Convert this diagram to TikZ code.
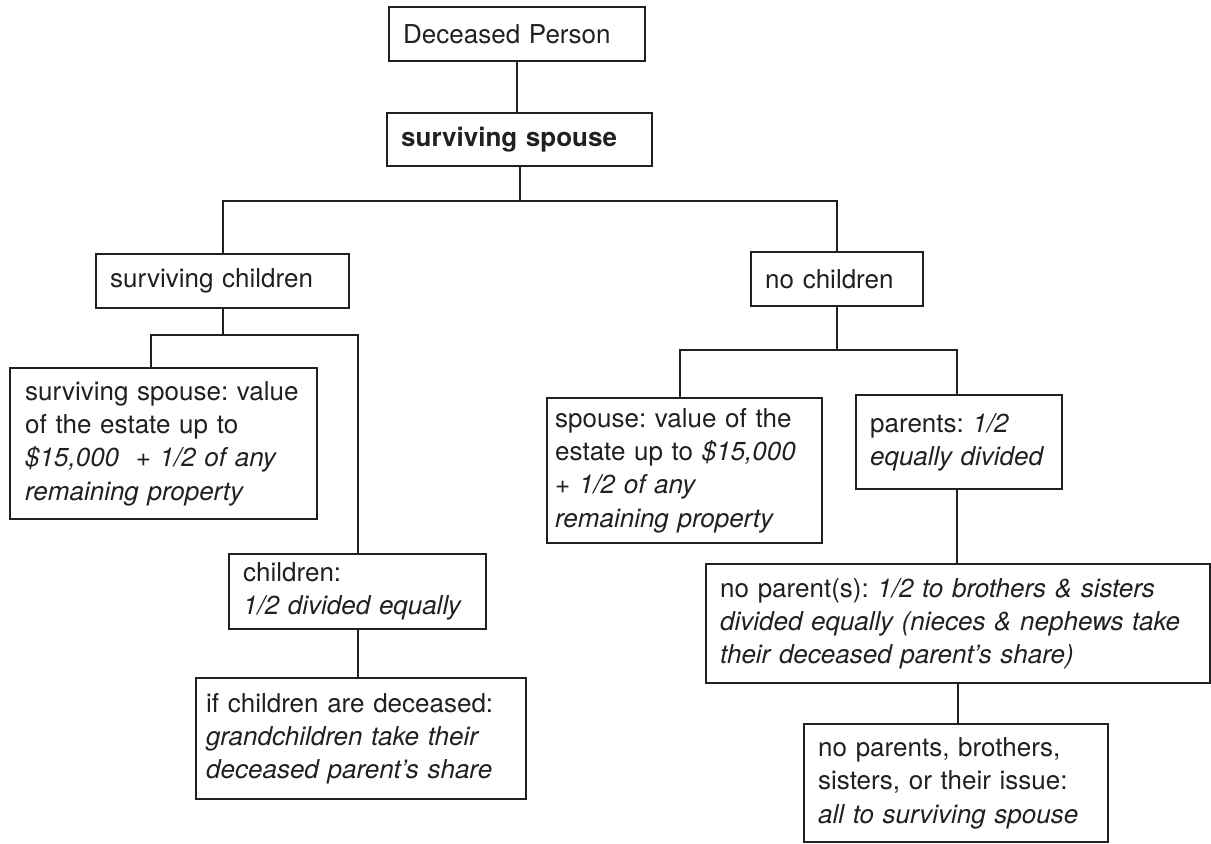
\documentclass[tikz,border=0pt]{standalone}
\usepackage{fontspec}
\setmainfont{TeX Gyre Heros}
\definecolor{ink}{HTML}{231F20}

\begin{document}
\begin{tikzpicture}[x=0.5pt, y=-0.5pt,
        box/.style={draw=ink, line width=1.2pt, anchor=north west, align=left,
            inner xsep=7pt, inner ysep=0pt, text=ink,
            font=\fontsize{13}{16.6}\selectfont\frenchspacing},
        link/.style={draw=ink, line width=1.2pt}]
        \useasboundingbox (0,0) rectangle (1211,843);

        \node[box, text width=114pt, minimum height=27pt] (dec) at (388,6) {Deceased Person};
        \node[box, text width=118.5pt, minimum height=26.5pt, font=\fontsize{13}{16.6}\selectfont\bfseries] (sp) at (386,112) {surviving spouse};

        \node[box, text width=112.5pt, minimum height=27pt] (kids) at (95,253) {surviving children};
        \node[box, text width=72pt, minimum height=27pt] (nokids) at (750,251) {no children};

        \node[box, text width=138.5pt, inner xsep=7.5pt, minimum height=75.5pt] (share) at (9,367)
            {\mbox{surviving spouse: value}\\of the estate up to\\\textit{\$15,000\hspace{4pt} + 1/2 of any}\\\textit{remaining property}};
        \node[box, text width=114.5pt, minimum height=37.5pt] (half) at (228,553)
            {children:\\\textit{1/2 divided equally}};
        \node[box, text width=155pt, inner xsep=5pt, minimum height=60.5pt] (grand) at (195,677)
            {if children are deceased:\\\textit{grandchildren take their}\\\textit{deceased parent’s share}};

        \node[box, text width=129.5pt, inner xsep=4pt, minimum height=72.5pt] (sptwo) at (546,397)
            {spouse: value of the\\estate up to \textit{\$15,000}\\\textit{+ 1/2 of any}\\\textit{remaining property}};
        \node[box, text width=89pt, minimum height=47pt] (parents) at (855,394)
            {parents: \textit{1/2}\\\textit{equally divided}};
        \node[box, text width=238pt, minimum height=59.5pt] (noparent) at (705,563)
            {no parent(s): \textit{1/2 to brothers \& sisters}\\\textit{divided equally (nieces \& nephews take}\\\textit{their deceased parent’s share)}};
        \node[box, text width=138pt, minimum height=59pt] (rest) at (803,723)
            {no parents, brothers,\\sisters, or their issue:\\\textit{all to surviving spouse}};

        \coordinate (toprow) at (0,201);
        \coordinate (leftrow) at (0,335);
        \coordinate (rightrow) at (0,350);

        \draw[link] (dec.south) -- (dec.south |- sp.north);
        \draw[link] (sp.south) -- (sp.south |- toprow);
        \draw[link] (kids.north) |- (sp.south |- toprow) -| (nokids.north);

        \draw[link] (kids.south) -- (kids.south |- leftrow);
        \draw[link] ([xshift=-6.25pt]share.north) |- (half.north |- leftrow) -- (half.north);
        \draw[link] (half.south) -- (half.south |- grand.north);

        \draw[link] (nokids.south) -- (nokids.south |- rightrow);
        \draw[link] ([xshift=-2.25pt]sptwo.north) |- ([xshift=-1pt]parents.north |- rightrow) -- ([xshift=-1pt]parents.north);
        \draw[link] ([xshift=-1pt]parents.south) -- ([xshift=-1pt]parents.south |- noparent.north);
        \draw[link] (noparent.south) -- (noparent.south |- rest.north);

\end{tikzpicture}
\end{document}
